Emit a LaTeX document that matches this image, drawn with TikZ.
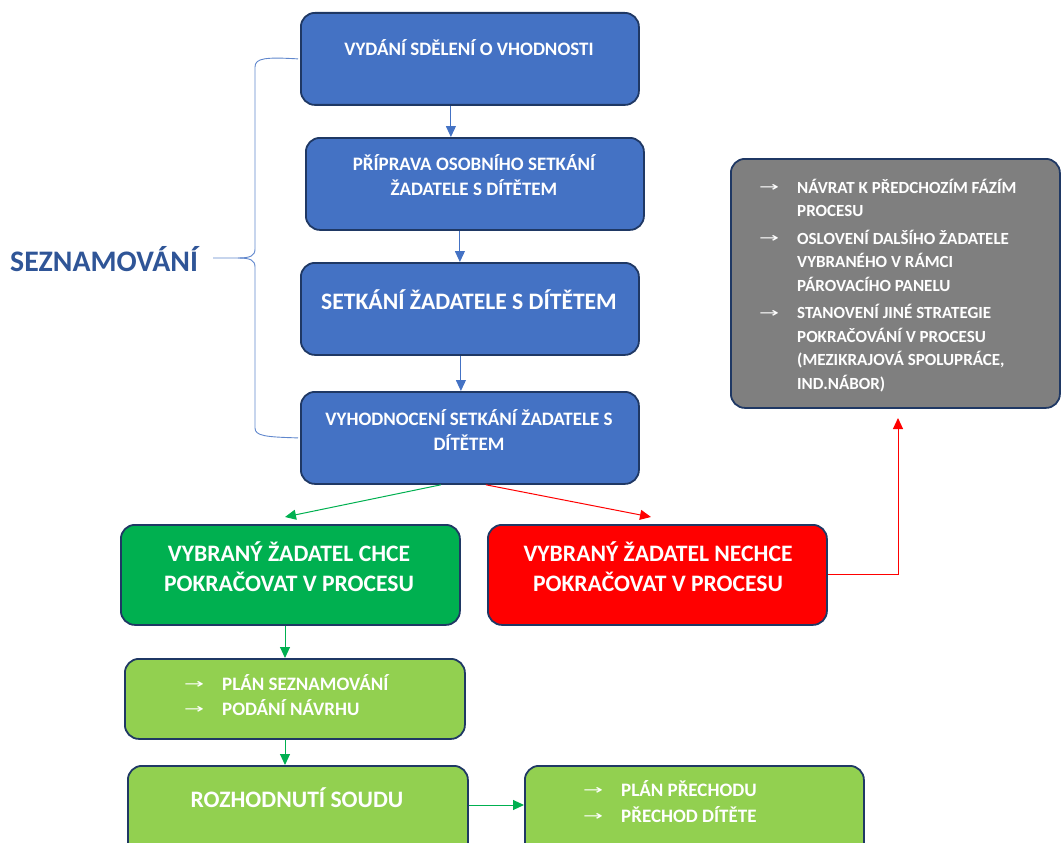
\documentclass[tikz,border=0pt]{standalone}
\usepackage{fontspec}
\usepackage{graphicx}
\setmainfont{Carlito}
\newfontfamily\symf{DejaVu Sans}
\usetikzlibrary{arrows.meta,calc}
\definecolor{cblue}{HTML}{4472C4}
\definecolor{cnavy}{HTML}{1F3864}
\definecolor{cgreen}{HTML}{00B050}
\definecolor{cred}{HTML}{FF0000}
\definecolor{clight}{HTML}{92D050}
\definecolor{cgray}{HTML}{7F7F7F}
\definecolor{cdark}{HTML}{2F5597}
\newcommand{\arr}[1]{\makebox[#1][l]{\raisebox{1.5pt}{\resizebox{20pt}{7pt}{\symf\mdseries →}}}}
\begin{document}
\begin{tikzpicture}[x=1pt,y=-1pt,
  box/.style={draw=cnavy, line width=1.8pt, rounded corners=14pt, anchor=north west, inner sep=0pt},
  txt/.style={text=white, font=\bfseries\fontsize{19}{25}\selectfont, align=center},
  big/.style={text=white, font=\bfseries\fontsize{23.6}{30}\selectfont, align=center},
  lst/.style={text=white, anchor=north west, inner sep=0pt, align=left},
  conn/.style={line width=1pt, -{Triangle[length=11pt,width=10pt]}},
  brace/.style={draw=cblue!85, line width=0.9pt}]
\useasboundingbox (0,0) rectangle (1061,843);
\clip (0,0) rectangle (1061,843);
% blue boxes
\node[box, fill=cblue, minimum width=338pt, minimum height=92pt] (b1) at (300,12) {};
\node[box, fill=cblue, minimum width=338pt, minimum height=92pt] (b2) at (305,137) {};
\node[box, fill=cblue, minimum width=338pt, minimum height=92pt] (b3) at (300,262) {};
\node[box, fill=cblue, minimum width=338pt, minimum height=92pt] (b4) at (300,391) {};
\node[txt] (t1) at (469,48) {VYDÁNÍ SDĚLENÍ O VHODNOSTI};
\node[txt] (t2) at (474,175) {PŘÍPRAVA OSOBNÍHO SETKÁNÍ\\ŽADATELE S DÍTĚTEM};
\node[big] (t3) at (469,300) {SETKÁNÍ ŽADATELE S DÍTĚTEM};
\node[txt] (t4) at (469,430) {VYHODNOCENÍ SETKÁNÍ ŽADATELE S\\DÍTĚTEM};
% decision boxes
\node[box, fill=cgreen, minimum width=339pt, minimum height=100pt] (bg) at (120,524) {};
\node[box, fill=cred, minimum width=339pt, minimum height=100pt] (br) at (487,524) {};
\node[big] (tg) at (289,567) {VYBRANÝ ŽADATEL CHCE\\POKRAČOVAT V PROCESU};
\node[big] (tr) at (658,567) {VYBRANÝ ŽADATEL NECHCE\\POKRAČOVAT V PROCESU};
% light green boxes
\node[box, fill=clight, minimum width=340pt, minimum height=80pt] (l1) at (124,658) {};
\node[box, fill=clight, minimum width=340pt, minimum height=95pt] (l2) at (127,765) {};
\node[box, fill=clight, minimum width=339pt, minimum height=95pt] (l3) at (524,765) {};
\node[lst, font=\bfseries\fontsize{19}{25}\selectfont] (tl1) at (184,674)
  {\arr{38pt}PLÁN SEZNAMOVÁNÍ\\ \arr{38pt}PODÁNÍ NÁVRHU};
\node[big] (tl2) at (297,798) {ROZHODNUTÍ SOUDU};
\node[lst, font=\bfseries\fontsize{19}{26}\selectfont] (tl3) at (583,780)
  {\arr{38pt}PLÁN PŘECHODU\\ \arr{38pt}PŘECHOD DÍTĚTE};
% gray box
\node[box, fill=cgray, minimum width=329pt, minimum height=249pt] (gb) at (730,158) {};
\node[lst, font=\bfseries\fontsize{17}{23.5}\selectfont] (gt) at (759,179)
  {\arr{38pt}NÁVRAT K PŘEDCHOZÍM FÁZÍM\\
   \hspace*{38pt}PROCESU\\[4pt]
   \arr{38pt}OSLOVENÍ DALŠÍHO ŽADATELE\\
   \hspace*{38pt}VYBRANÉHO V RÁMCI\\
   \hspace*{38pt}PÁROVACÍHO PANELU\\[4pt]
   \arr{38pt}STANOVENÍ JINÉ STRATEGIE\\
   \hspace*{38pt}POKRAČOVÁNÍ V PROCESU\\
   \hspace*{38pt}(MEZIKRAJOVÁ SPOLUPRÁCE,\\
   \hspace*{38pt}IND.NÁBOR)};
% label and brace
\node[text=cdark, font=\bfseries\fontsize{29.8}{32}\selectfont, anchor=west, inner sep=0pt] (sez) at (10,259) {SEZNAMOVÁNÍ};
\coordinate (tip) at ([xshift=15pt]sez.east |- 0,258);
\draw[brace] ([xshift=-2pt]b1.west) .. controls (266,57) and (255,58) .. (255,67) -- (255,249)
   .. controls (255,256) and (250,258) .. (238,258) -- (tip);
\draw[brace] (238,258) .. controls (250,258) and (255,260) .. (255,267) -- (255,428)
   .. controls (255,436) and (266,437) .. ([xshift=-2pt]b4.west);
% connectors
\draw[conn, cblue] ([xshift=-19pt]b1.south) -- ([xshift=-24pt]b2.north);
\draw[conn, cblue] ([xshift=-15pt]b2.south) -- ([xshift=-10pt]b3.north);
\draw[conn, cblue] ([xshift=-9pt]b3.south) -- ([xshift=-9pt]b4.north);
\coordinate (ge) at (285,517);
\coordinate (re) at (651,517);
\draw[conn, cgreen] ([xshift=-29pt]b4.south) -- (ge);
\draw[conn, cred] ([xshift=16pt]b4.south) -- (re);
\coordinate (gu) at (898,418);
\draw[conn, cred] (br.east) -| (gu);
\draw[conn, cgreen] (bg.south -| 285,0) -- (l1.north -| 285,0);
\draw[conn, cgreen] (l1.south -| 285,0) -- (l2.north -| 285,0);
\draw[conn, cgreen] (l2.east |- 0,805) -- (l3.west |- 0,805);
\end{tikzpicture}
\end{document}
